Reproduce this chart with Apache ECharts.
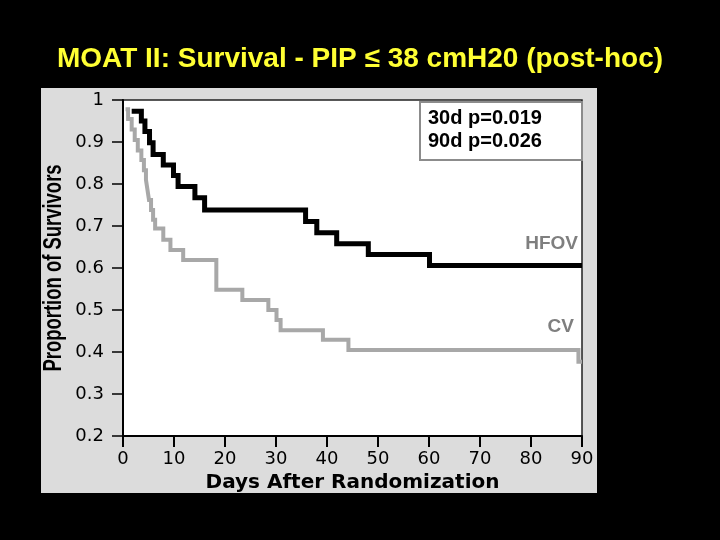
<!DOCTYPE html>
<html>
<head>
<meta charset="utf-8">
<script src="https://cdn.jsdelivr.net/npm/echarts@6/dist/echarts.min.js"></script>
<style>
  html, body { margin: 0; padding: 0; background: #000; }
  #chart { width: 720px; height: 540px; }
</style>
</head>
<body>
<div id="chart"></div>
<script>
(() => {
  "use strict";

  const chartTitle = "MOAT II: Survival - PIP \u2264 38 cmH20 (post-hoc)";
  const xName = "Days After Randomization";
  const yName = "Proportion of Survivors";
  const xTickLabels = ["0", "10", "20", "30", "40", "50", "60", "70", "80", "90"];
  const yTickLabels = ["0.2", "0.3", "0.4", "0.5", "0.6", "0.7", "0.8", "0.9", "1"];
  const pValueLines = ["30d p=0.019", "90d p=0.026"];
  const seriesNames = ["HFOV", "CV"];

  // Kaplan-Meier steps: day of each drop, survival after it
  const hfovDays = [1.7, 3.6, 4.3, 5.2, 5.9, 7.9, 9.9, 10.8, 14.1, 16.0, 35.8, 38.0, 41.9, 48.1, 60.1, 90];
  const hfovSurv = [0.973, 0.950, 0.925, 0.898, 0.870, 0.845, 0.820, 0.794, 0.767, 0.738, 0.711, 0.684, 0.658, 0.632, 0.606, 0.606];
  const cvDays = [0.5, 1.0, 1.7, 2.3, 2.9, 3.6, 4.1, 4.5, 4.8, 5.1, 5.5, 5.9, 6.3, 7.9, 9.3, 11.8, 18.3, 23.4, 28.5, 30.1, 30.9, 39.2, 44.2, 89.3, 90];
  const cvSurv = [0.978, 0.955, 0.930, 0.905, 0.880, 0.857, 0.833, 0.810, 0.786, 0.762, 0.738, 0.715, 0.694, 0.667, 0.643, 0.619, 0.548, 0.524, 0.500, 0.476, 0.452, 0.429, 0.405, 0.377, 0.377];

  const chart = echarts.init(document.getElementById("chart"), null, { renderer: "canvas" });

  const zip = (xs, ys) => xs.map((x, i) => [x, ys[i]]);

  const tickFont = "DejaVu Sans";
  const boldFont = "Liberation Sans";

  chart.setOption({
    animation: false,
    backgroundColor: "#000",
    title: {
      text: chartTitle,
      left: "center",
      top: 40,
      textStyle: { color: "#ffff33", fontFamily: boldFont, fontWeight: "bold", fontSize: 28 }
    },
    grid: {
      left: 123,
      right: 138,
      top: 100,
      bottom: 104,
      show: true,
      backgroundColor: "#fff",
      borderColor: "#222",
      borderWidth: 1.5
    },
    xAxis: {
      type: "value",
      min: 0,
      max: 90,
      interval: 10,
      name: xName,
      nameLocation: "middle",
      nameGap: 33,
      nameTextStyle: { color: "#000", fontFamily: tickFont, fontWeight: "bold", fontSize: 20 },
      axisLine: { lineStyle: { color: "#000", width: 2 } },
      axisTick: { length: 11, lineStyle: { color: "#000", width: 2 } },
      axisLabel: {
        color: "#000",
        fontFamily: tickFont,
        fontSize: 18,
        margin: 14,
        formatter: (v) => xTickLabels[Math.round(v / 10)]
      },
      splitLine: { show: false }
    },
    yAxis: {
      type: "value",
      min: 0.2,
      max: 1,
      interval: 0.1,
      axisLine: { lineStyle: { color: "#000", width: 2 } },
      axisTick: { length: 11, lineStyle: { color: "#000", width: 1.5 } },
      axisLabel: {
        color: "#000",
        fontFamily: tickFont,
        fontSize: 18,
        margin: 19,
        formatter: (v) => yTickLabels[Math.round(v * 10) - 2]
      },
      splitLine: { show: false }
    },
    graphic: [
      {
        type: "rect",
        z: -10,
        shape: { x: 41, y: 88, width: 556, height: 405 },
        style: { fill: "#dcdcdc" }
      },
      {
        // condensed vertical axis title
        type: "text",
        z: 101,
        x: 54,
        y: 268,
        rotation: Math.PI / 2,
        scaleX: 0.71,
        style: {
          text: yName,
          fill: "#000",
          font: "bold 26px 'Liberation Sans'",
          align: "center",
          verticalAlign: "middle"
        }
      },
      {
        type: "rect",
        z: 100,
        shape: { x: 420, y: 102, width: 162, height: 58 },
        style: { fill: "#fff", stroke: "#8c8c8c", lineWidth: 2 }
      },
      {
        type: "text",
        z: 101,
        x: 428,
        y: 118,
        style: {
          text: pValueLines[0],
          fill: "#000",
          font: "bold 20px 'Liberation Sans'",
          verticalAlign: "middle"
        }
      },
      {
        type: "text",
        z: 101,
        x: 428,
        y: 141,
        style: {
          text: pValueLines[1],
          fill: "#000",
          font: "bold 20px 'Liberation Sans'",
          verticalAlign: "middle"
        }
      },
      {
        type: "text",
        z: 101,
        x: 578,
        y: 244,
        style: {
          text: seriesNames[0],
          fill: "#7f7f7f",
          font: "bold 19px 'Liberation Sans'",
          align: "right",
          verticalAlign: "middle"
        }
      },
      {
        type: "text",
        z: 101,
        x: 574,
        y: 327,
        style: {
          text: seriesNames[1],
          fill: "#7f7f7f",
          font: "bold 19px 'Liberation Sans'",
          align: "right",
          verticalAlign: "middle"
        }
      }
    ],
    series: [
      {
        name: seriesNames[1],
        type: "line",
        step: "end",
        data: zip(cvDays, cvSurv),
        showSymbol: false,
        symbol: "none",
        clip: false,
        lineStyle: { color: "#a8a8a8", width: 4, join: "miter", cap: "butt" },
        z: 3
      },
      {
        name: seriesNames[0],
        type: "line",
        step: "end",
        data: zip(hfovDays, hfovSurv),
        showSymbol: false,
        symbol: "none",
        clip: false,
        lineStyle: { color: "#000", width: 5, join: "miter", cap: "butt" },
        z: 4
      }
    ]
  });
})();
</script>
</body>
</html>
